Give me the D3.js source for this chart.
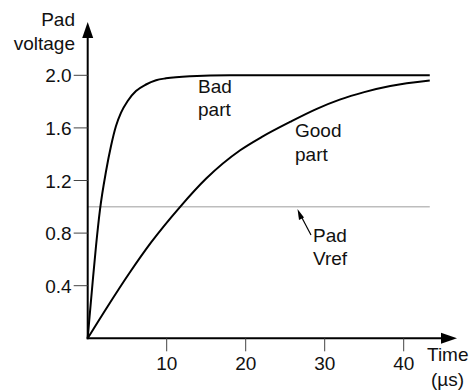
<!DOCTYPE html>
<html>
<head>
<meta charset="utf-8">
<script src="https://cdn.jsdelivr.net/npm/d3@7"></script>
<style>
  body { margin: 0; background: #fff; }
  text { font-family: "Liberation Sans", Arial, sans-serif; font-size: 19px; fill: #111; }
</style>
</head>
<body>
<svg id="chart" width="471" height="390"></svg>
<script>
// values
var xTicks = [10, 20, 30, 40];
var yTicks = [0.4, 0.8, 1.2, 1.6, 2.0];
var badTime = [0, 0.2, 0.63, 1.05, 1.56, 2.32, 2.95, 3.58, 4.22, 5.06, 6.11, 7.38, 8.65, 9.9, 13, 18, 43.3];
var badVolt = [0, 0.14, 0.43, 0.70, 0.98, 1.27, 1.462, 1.614, 1.716, 1.805, 1.88, 1.93, 1.962, 1.977, 1.993, 2.0, 2.0];
var goodTime = [0, 2.5, 5.35, 8, 11.7, 15, 19.3, 22, 25.6, 29, 31.9, 35, 38.3, 43.3];
var goodVolt = [0, 0.24, 0.502, 0.727, 1.0, 1.215, 1.43, 1.53, 1.645, 1.745, 1.815, 1.872, 1.918, 1.96];
var vref = 1.0;
var vrefEnd = 43.3;

var svg = d3.select("#chart");

var x = d3.scaleLinear().domain([0, 40]).range([87.7, 403.7]);
var y = d3.scaleLinear().domain([0, 2]).range([338.3, 75.3]);

// Vref line
svg.append("line")
    .attr("x1", x(0)).attr("x2", x(vrefEnd))
    .attr("y1", y(vref)).attr("y2", y(vref))
    .style("stroke", "#bdbdbd").style("stroke-width", 1.5);

var line = d3.line()
    .x(function(d) { return x(d[0]); })
    .y(function(d) { return y(d[1]); })
    .curve(d3.curveMonotoneX);

var bad = badTime.map(function(t, i) { return [t, badVolt[i]]; });
var good = goodTime.map(function(t, i) { return [t, goodVolt[i]]; });

svg.append("path").attr("d", line(bad))
    .style("fill", "none").style("stroke", "#000").style("stroke-width", 2);
svg.append("path").attr("d", line(good))
    .style("fill", "none").style("stroke", "#000").style("stroke-width", 2);

// axes
var x0 = x(0), y0 = y(0);
svg.append("line").attr("x1", x0).attr("x2", x0).attr("y1", y0 + 1).attr("y2", 34)
    .style("stroke", "#000").style("stroke-width", 2);
svg.append("path").attr("d", "M" + x0 + ",22 L" + (x0 - 5.5) + ",38 L" + (x0 + 5.5) + ",38 Z")
    .style("fill", "#000");
svg.append("line").attr("x1", x0 - 1).attr("x2", 445).attr("y1", y0).attr("y2", y0)
    .style("stroke", "#000").style("stroke-width", 2);
svg.append("path").attr("d", "M457," + y0 + " L441," + (y0 - 5.5) + " L441," + (y0 + 5.5) + " Z")
    .style("fill", "#000");

// y ticks
var yt = svg.selectAll("g.ytick").data(yTicks).enter().append("g").attr("class", "ytick");
yt.append("line")
    .attr("x1", x0 - 14).attr("x2", x0)
    .attr("y1", function(d) { return y(d); }).attr("y2", function(d) { return y(d); })
    .style("stroke", "#444").style("stroke-width", 1);
yt.append("text")
    .attr("x", x0 - 16).attr("y", function(d) { return y(d) + 7; })
    .attr("text-anchor", "end")
    .text(function(d) { return d3.format(".1f")(d); });

// x ticks
var xt = svg.selectAll("g.xtick").data(xTicks).enter().append("g").attr("class", "xtick");
xt.append("line")
    .attr("x1", function(d) { return x(d); }).attr("x2", function(d) { return x(d); })
    .attr("y1", y0).attr("y2", y0 + 13)
    .style("stroke", "#444").style("stroke-width", 1);
xt.append("text")
    .attr("x", function(d) { return x(d); }).attr("y", 370)
    .attr("text-anchor", "middle")
    .text(function(d) { return d; });

// axis titles
svg.append("text").attr("x", 75).attr("y", 26).attr("text-anchor", "end").text("Pad");
svg.append("text").attr("x", 75).attr("y", 50).attr("text-anchor", "end").text("voltage");
svg.append("text").attr("x", 427).attr("y", 361).text("Time");
svg.append("text").attr("x", 431).attr("y", 386).text("(µs)");

// curve labels
svg.append("text").attr("x", 198).attr("y", 93).text("Bad");
svg.append("text").attr("x", 198).attr("y", 116).text("part");
svg.append("text").attr("x", 295).attr("y", 137).text("Good");
svg.append("text").attr("x", 295).attr("y", 161).text("part");

// Pad Vref annotation
svg.append("line").attr("x1", 311).attr("y1", 235).attr("x2", 301).attr("y2", 216)
    .style("stroke", "#000").style("stroke-width", 1.2);
svg.append("path").attr("d", "M297.5,209 L299,220 L304,217.5 Z").style("fill", "#000");
svg.append("text").attr("x", 313).attr("y", 242).text("Pad");
svg.append("text").attr("x", 313).attr("y", 265).text("Vref");
</script>
</body>
</html>
